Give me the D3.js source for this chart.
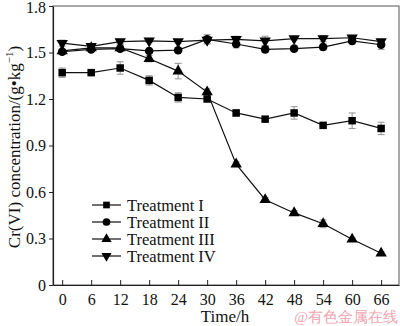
<!DOCTYPE html>
<html>
<head>
<meta charset="utf-8">
<script src="https://cdn.jsdelivr.net/npm/d3@7"></script>
<style>
  body { margin: 0; background: #fff; }
  text { font-family: "Liberation Serif", "Times New Roman", serif; }
</style>
</head>
<body>
<svg id="chart"></svg>
<script>
// Data
const times = [0, 6, 12, 18, 24, 30, 36, 42, 48, 54, 60, 66];
const treatment1 = [1.37, 1.37, 1.40, 1.32, 1.21, 1.20, 1.11, 1.07, 1.11, 1.03, 1.06, 1.01];
const treatment1Err = [0.03, 0.01, 0.04, 0.03, 0.03, 0.01, 0.02, 0.015, 0.04, 0.01, 0.05, 0.04];
const treatment2 = [1.505, 1.52, 1.525, 1.51, 1.515, 1.585, 1.555, 1.52, 1.525, 1.535, 1.575, 1.55];
const treatment2Err = [0.015, 0.01, 0.015, 0.01, 0.01, 0.03, 0.025, 0.02, 0.01, 0.02, 0.02, 0.03];
const treatment3 = [1.51, 1.53, 1.53, 1.46, 1.38, 1.245, 0.78, 0.55, 0.465, 0.395, 0.295, 0.205];
const treatment3Err = [0.01, 0.01, 0.02, 0.02, 0.05, 0.02, 0.015, 0.015, 0.015, 0.025, 0.01, 0.01];
const treatment4 = [1.56, 1.54, 1.57, 1.575, 1.57, 1.58, 1.585, 1.575, 1.59, 1.59, 1.595, 1.57];
const treatment4Err = [0.02, 0.015, 0.015, 0.01, 0.01, 0.02, 0.02, 0.03, 0.01, 0.02, 0.015, 0.015];
const seriesNames = ['Treatment I', 'Treatment II', 'Treatment III', 'Treatment IV'];
const yTicks = [0, 0.3, 0.6, 0.9, 1.2, 1.5, 1.8];

const width = 400, height = 326;
const margin = {top: 6, right: 1, bottom: 41, left: 53};

const svg = d3.select('#chart')
  .attr('width', width)
  .attr('height', height);

const x = d3.scaleLinear()
  .domain([-1.9, 69.7])
  .range([margin.left, width - margin.right]);

const y = d3.scaleLinear()
  .domain([0, 1.8])
  .range([height - margin.bottom, margin.top]);

const series = [
  {name: seriesNames[0], values: treatment1, err: treatment1Err, symbol: d3.symbolSquare, size: 56, rot: 0},
  {name: seriesNames[1], values: treatment2, err: treatment2Err, symbol: d3.symbolCircle, size: 58, rot: 0},
  {name: seriesNames[2], values: treatment3, err: treatment3Err, symbol: d3.symbolTriangle, size: 56, rot: 0},
  {name: seriesNames[3], values: treatment4, err: treatment4Err, symbol: d3.symbolTriangle, size: 56, rot: 180}
];

// frame
svg.append('rect')
  .attr('x', margin.left)
  .attr('y', margin.top)
  .attr('width', width - margin.left - margin.right)
  .attr('height', height - margin.top - margin.bottom)
  .attr('fill', 'none')
  .attr('stroke', '#555')
  .attr('stroke-width', 1);

// x axis, ticks pointing inward
const xAxis = d3.axisBottom(x)
  .tickValues(times)
  .tickSize(-5)
  .tickSizeOuter(0)
  .tickPadding(9);

const xAxisG = svg.append('g')
  .attr('transform', `translate(0,${y(0)})`)
  .call(xAxis);
xAxisG.select('.domain').attr('stroke', '#222').attr('stroke-width', 1.2);
xAxisG.selectAll('.tick line').attr('stroke', '#222');
xAxisG.selectAll('.tick text')
  .attr('font-size', 16)
  .attr('fill', '#111');

// y axis, short ticks outside
const yAxis = d3.axisLeft(y)
  .tickValues(yTicks)
  .tickFormat(d => d === 0 ? '0' : d3.format('.1f')(d))
  .tickSize(4)
  .tickSizeOuter(0)
  .tickPadding(3);

const yAxisG = svg.append('g')
  .attr('transform', `translate(${margin.left},0)`)
  .call(yAxis);
yAxisG.select('.domain').attr('stroke', '#222').attr('stroke-width', 1.2);
yAxisG.selectAll('.tick line').attr('stroke', '#222');
yAxisG.selectAll('.tick text')
  .attr('font-size', 16)
  .attr('fill', '#111');
// keep the top label inside the page
yAxisG.selectAll('.tick text').filter(d => d === 1.8).attr('dy', '0.42em');

// axis titles
svg.append('text')
  .attr('x', 225)
  .attr('y', 322)
  .attr('text-anchor', 'middle')
  .attr('font-size', 17)
  .attr('fill', '#111')
  .text('Time/h');

const yTitle = svg.append('text')
  .attr('transform', `translate(20,147) rotate(-90)`)
  .attr('text-anchor', 'middle')
  .attr('font-size', 17)
  .attr('fill', '#111');
yTitle.append('tspan').text('Cr(VI) concentration/(g\u2022kg');
yTitle.append('tspan').attr('dy', -7).attr('font-size', 11).text('\u22121');
yTitle.append('tspan').attr('dy', 7).text(')');

const line = d3.line()
  .x((d, i) => x(times[i]))
  .y(d => y(d));

const plot = svg.append('g');

series.forEach(s => {
  // error bars
  const eb = plot.append('g')
    .attr('stroke', '#888')
    .attr('stroke-width', 0.9);
  s.values.forEach((v, i) => {
    const cx = x(times[i]);
    const y0 = y(v - s.err[i]), y1 = y(v + s.err[i]);
    eb.append('line').attr('x1', cx).attr('x2', cx).attr('y1', y0).attr('y2', y1);
    eb.append('line').attr('x1', cx - 3.5).attr('x2', cx + 3.5).attr('y1', y0).attr('y2', y0);
    eb.append('line').attr('x1', cx - 3.5).attr('x2', cx + 3.5).attr('y1', y1).attr('y2', y1);
  });

  plot.append('path')
    .datum(s.values)
    .attr('fill', 'none')
    .attr('stroke', '#111')
    .attr('stroke-width', 1.2)
    .attr('d', line);
});

series.forEach(s => {
  plot.selectAll(null)
    .data(s.values)
    .join('path')
    .attr('transform', (d, i) => `translate(${x(times[i])},${y(d)}) rotate(${s.rot})`)
    .attr('d', d3.symbol().type(s.symbol).size(s.size))
    .attr('fill', '#000');
});

// legend
const legend = svg.append('g');
series.forEach((s, i) => {
  const ly = 205 + i * 17;
  legend.append('line')
    .attr('x1', 92).attr('x2', 121)
    .attr('y1', ly).attr('y2', ly)
    .attr('stroke', '#111')
    .attr('stroke-width', 1.2);
  legend.append('path')
    .attr('transform', `translate(106.5,${ly}) rotate(${s.rot})`)
    .attr('d', d3.symbol().type(s.symbol).size(s.size * 0.8))
    .attr('fill', '#000');
  legend.append('text')
    .attr('x', 127)
    .attr('y', ly + 5.5)
    .attr('font-size', 16.5)
    .attr('fill', '#111')
    .text(s.name);
});

// watermark
svg.append('text')
  .attr('x', 398)
  .attr('y', 322)
  .attr('text-anchor', 'end')
  .attr('font-family', '"Noto Sans CJK SC", sans-serif')
  .attr('font-size', 15)
  .attr('fill', '#f1a5b0')
  .text('@有色金属在线');
</script>
</body>
</html>
